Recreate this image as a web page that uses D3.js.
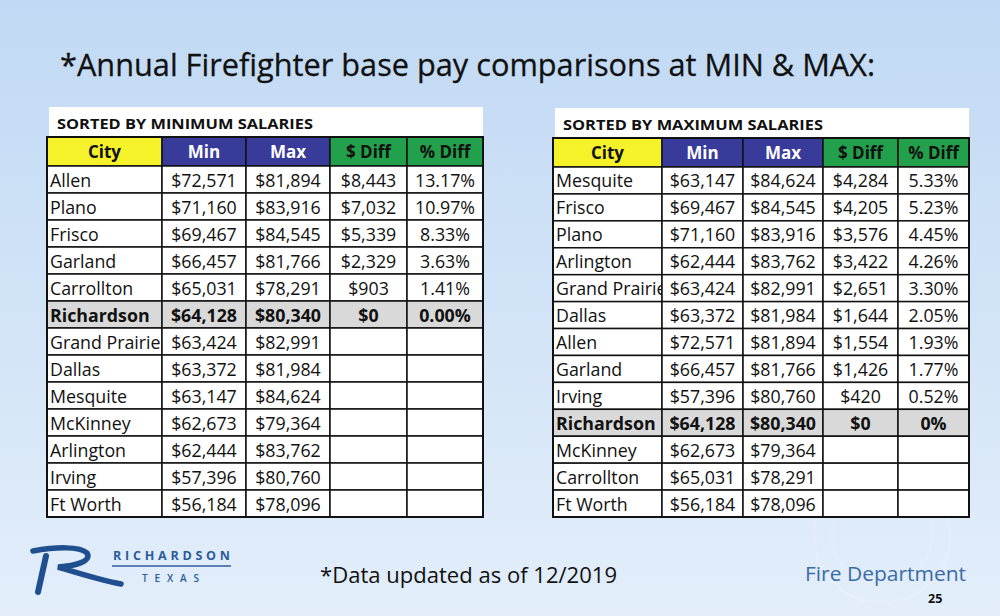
<!DOCTYPE html>
<html>
<head>
<meta charset="utf-8">
<script src="https://cdn.jsdelivr.net/npm/d3@7"></script>
<style>
  body { margin: 0; background: #d4e6f8; }
  svg { display: block; }
  text { font-family: "Open Sans", "Noto Sans", sans-serif; }
</style>
</head>
<body>
<script>
// ---- data ----
var minCities = ["Allen", "Plano", "Frisco", "Garland", "Carrollton", "Richardson", "Grand Prairie",
                 "Dallas", "Mesquite", "McKinney", "Arlington", "Irving", "Ft Worth"];
var minMin  = [72571, 71160, 69467, 66457, 65031, 64128, 63424, 63372, 63147, 62673, 62444, 57396, 56184];
var minMax  = [81894, 83916, 84545, 81766, 78291, 80340, 82991, 81984, 84624, 79364, 83762, 80760, 78096];
var minDiff = [8443, 7032, 5339, 2329, 903, 0, null, null, null, null, null, null, null];
var minPct  = ["13.17%", "10.97%", "8.33%", "3.63%", "1.41%", "0.00%", "", "", "", "", "", "", ""];

var maxCities = ["Mesquite", "Frisco", "Plano", "Arlington", "Grand Prairie", "Dallas", "Allen",
                 "Garland", "Irving", "Richardson", "McKinney", "Carrollton", "Ft Worth"];
var maxMin  = [63147, 69467, 71160, 62444, 63424, 63372, 72571, 66457, 57396, 64128, 62673, 65031, 56184];
var maxMax  = [84624, 84545, 83916, 83762, 82991, 81984, 81894, 81766, 80760, 80340, 79364, 78291, 78096];
var maxDiff = [4284, 4205, 3576, 3422, 2651, 1644, 1554, 1426, 420, 0, null, null, null];
var maxPct  = ["5.33%", "5.23%", "4.45%", "4.26%", "3.30%", "2.05%", "1.93%", "1.77%", "0.52%", "0%", "", "", ""];

var headers = ["City", "Min", "Max", "$ Diff", "% Diff"];
var highlight = "Richardson";

// header look
var headFill = ["#f5f22a", "#393b9b", "#393b9b", "#22a04b", "#22a04b"];
var headText = ["#111", "#fff", "#fff", "#111", "#111"];

var money = function (v) { return v == null ? "" : "$" + d3.format(",")(v); };

var W = 1000, H = 616;
var svg = d3.select("body").append("svg").attr("width", W).attr("height", H);

var defs = svg.append("defs");
var grad = defs.append("linearGradient").attr("id", "bg").attr("x1", 0).attr("y1", 0).attr("x2", 0).attr("y2", 1);
grad.append("stop").attr("offset", "0%").attr("stop-color", "#c1d9f4");
grad.append("stop").attr("offset", "100%").attr("stop-color", "#e3eefa");
svg.append("rect").attr("width", W).attr("height", H).attr("fill", "url(#bg)");

// faint seal watermark behind the right table corner
var seal = svg.append("g").attr("opacity", 0.14);
seal.append("circle").attr("cx", 882).attr("cy", 535).attr("r", 68)
  .attr("fill", "none").attr("stroke", "#fff").attr("stroke-width", 3);
seal.append("circle").attr("cx", 882).attr("cy", 535).attr("r", 50)
  .attr("fill", "none").attr("stroke", "#fff").attr("stroke-width", 2);

// title
svg.append("text").attr("x", 60).attr("y", 76)
  .attr("font-size", 31).attr("fill", "#111").attr("stroke", "#111").attr("stroke-width", 0.3)
  .attr("textLength", 815).attr("lengthAdjust", "spacingAndGlyphs")
  .text("*Annual Firefighter base pay comparisons at MIN & MAX:");

function drawTable(cfg) {
  var g = svg.append("g");
  var n = cfg.cities.length;

  // white panel under the caption
  g.append("rect").attr("x", cfg.x0 + 2).attr("y", cfg.panelTop)
    .attr("width", cfg.x1 - cfg.x0 - 2).attr("height", cfg.headTop - cfg.panelTop + 2)
    .attr("fill", "#fff");
  g.append("text").attr("x", cfg.x0 + 10).attr("y", cfg.headTop - 8)
    .attr("font-size", 14.5).attr("font-weight", 700).attr("fill", "#111")
    .attr("textLength", cfg.capLen).attr("lengthAdjust", "spacingAndGlyphs")
    .text(cfg.caption);

  // column edges from relative widths
  var edges = [0];
  cfg.widths.forEach(function (w, i) { edges.push(edges[i] + w); });
  var x = d3.scaleLinear().domain([0, edges[edges.length - 1]]).range([cfg.x0, cfg.x1]);

  var y = d3.scaleBand().domain(d3.range(n)).range([cfg.headBottom, cfg.bottom]);

  var rows = cfg.cities.map(function (c, i) {
    return [c, money(cfg.mins[i]), money(cfg.maxs[i]), money(cfg.diffs[i]), cfg.pcts[i]];
  });

  // header
  var hc = g.selectAll(".hcell").data(headers).enter().append("g").attr("class", "hcell");
  hc.append("rect")
    .attr("x", function (d, j) { return x(edges[j]); })
    .attr("y", cfg.headTop)
    .attr("width", function (d, j) { return x(edges[j + 1]) - x(edges[j]); })
    .attr("height", cfg.headBottom - cfg.headTop)
    .attr("fill", function (d, j) { return headFill[j]; })
    .attr("stroke", "#111").attr("stroke-width", 1.5);
  hc.append("text")
    .attr("x", function (d, j) { return (x(edges[j]) + x(edges[j + 1])) / 2; })
    .attr("y", (cfg.headTop + cfg.headBottom) / 2 + 6.5)
    .attr("text-anchor", "middle").attr("font-size", 17).attr("font-weight", 700)
    .attr("fill", function (d, j) { return headText[j]; })
    .text(function (d) { return d; });

  // body
  var cells = [];
  rows.forEach(function (r, i) {
    r.forEach(function (v, j) { cells.push({ i: i, j: j, v: v, hi: r[0] === highlight }); });
  });

  g.selectAll(".clip").data(cells.filter(function (c) { return c.j === 0; })).enter()
    .append("clipPath").attr("id", function (c) { return cfg.id + "c" + c.i; })
    .append("rect")
    .attr("x", x(edges[0])).attr("y", function (c) { return y(c.i); })
    .attr("width", x(edges[1]) - x(edges[0])).attr("height", y.bandwidth());

  var bc = g.selectAll(".bcell").data(cells).enter().append("g").attr("class", "bcell");
  bc.append("rect")
    .attr("x", function (c) { return x(edges[c.j]); })
    .attr("y", function (c) { return y(c.i); })
    .attr("width", function (c) { return x(edges[c.j + 1]) - x(edges[c.j]); })
    .attr("height", y.bandwidth())
    .attr("fill", function (c) { return c.hi ? "#d9d9d9" : "#fff"; })
    .attr("stroke", "#111").attr("stroke-width", 1.5);
  bc.append("text")
    .attr("x", function (c) {
      return c.j === 0 ? x(edges[0]) + 3 : (x(edges[c.j]) + x(edges[c.j + 1])) / 2;
    })
    .attr("y", function (c) { return y(c.i) + y.bandwidth() / 2 + 7; })
    .attr("text-anchor", function (c) { return c.j === 0 ? "start" : "middle"; })
    .attr("clip-path", function (c) { return c.j === 0 ? "url(#" + cfg.id + "c" + c.i + ")" : null; })
    .attr("font-size", 17.8)
    .attr("font-weight", function (c) { return c.hi ? 700 : 400; })
    .attr("fill", "#111")
    .text(function (c) { return c.v; });

  // outer frame
  g.append("rect").attr("x", cfg.x0).attr("y", cfg.headTop)
    .attr("width", cfg.x1 - cfg.x0).attr("height", cfg.bottom - cfg.headTop)
    .attr("fill", "none").attr("stroke", "#111").attr("stroke-width", 2);
}

drawTable({
  id: "tl", caption: "SORTED BY MINIMUM SALARIES", capLen: 256,
  cities: minCities, mins: minMin, maxs: minMax, diffs: minDiff, pcts: minPct,
  x0: 47, x1: 483, widths: [115, 84, 84, 77, 76],
  panelTop: 107, headTop: 137, headBottom: 166, bottom: 517
});

drawTable({
  id: "tr", caption: "SORTED BY MAXIMUM SALARIES", capLen: 260,
  cities: maxCities, mins: maxMin, maxs: maxMax, diffs: maxDiff, pcts: maxPct,
  x0: 553, x1: 969, widths: [109, 81, 80, 75, 71],
  panelTop: 108, headTop: 138, headBottom: 167, bottom: 517
});

// footer: Richardson logo
var logo = svg.append("g").attr("fill", "none").attr("stroke", "#1f4f8f").attr("stroke-linecap", "round");
logo.append("path").attr("d", "M33,551 C55,547 80,546 87,553 C92,561 76,566 58,567 C78,573 100,580 121,584")
  .attr("stroke-width", 5.5);
logo.append("path").attr("d", "M46,556 L38,592").attr("stroke-width", 6);
svg.append("text").attr("x", 113).attr("y", 560)
  .attr("font-size", 12.5).attr("font-weight", 700).attr("fill", "#2c5c9c")
  .attr("textLength", 117).attr("lengthAdjust", "spacing")
  .text("RICHARDSON");
svg.append("line").attr("x1", 112).attr("x2", 231).attr("y1", 566).attr("y2", 566)
  .attr("stroke", "#2c5c9c").attr("stroke-width", 1.5);
svg.append("text").attr("x", 142).attr("y", 582)
  .attr("font-size", 10).attr("font-weight", 600).attr("fill", "#2c5c9c")
  .attr("textLength", 57).attr("lengthAdjust", "spacing")
  .text("TEXAS");

svg.append("text").attr("x", 320).attr("y", 583)
  .attr("font-size", 21).attr("fill", "#111")
  .attr("textLength", 297).attr("lengthAdjust", "spacingAndGlyphs")
  .text("*Data updated as of 12/2019");

svg.append("text").attr("x", 805).attr("y", 581)
  .attr("font-size", 19.5).attr("fill", "#3a6ca6")
  .attr("textLength", 161).attr("lengthAdjust", "spacingAndGlyphs")
  .text("Fire Department");

svg.append("text").attr("x", 928).attr("y", 603)
  .attr("font-size", 12.5).attr("font-weight", 700).attr("fill", "#111")
  .text("25");
</script>
</body>
</html>
